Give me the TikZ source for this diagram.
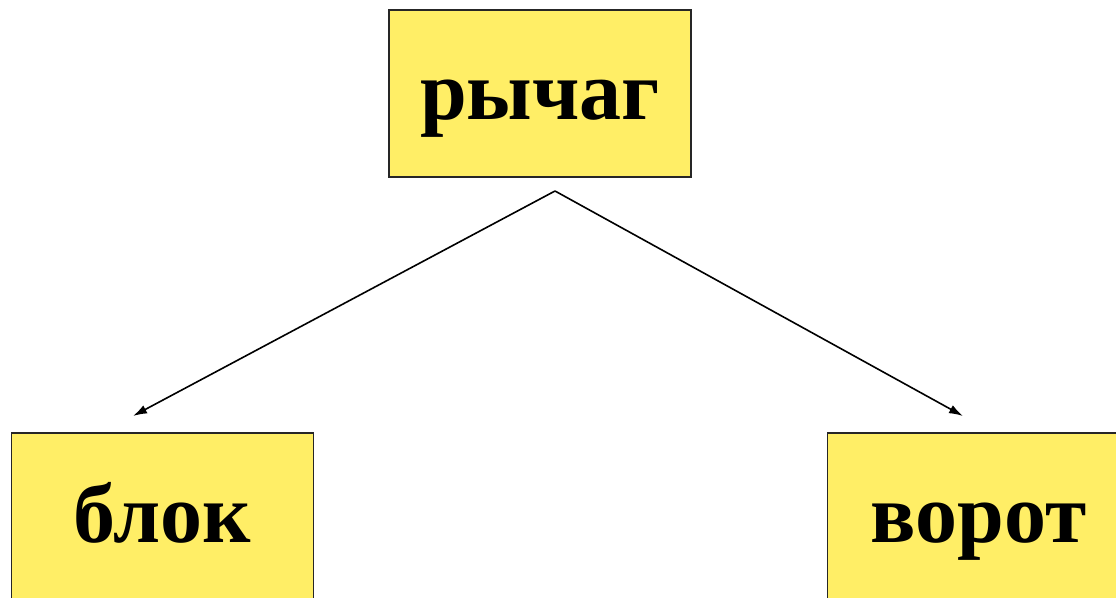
\documentclass[tikz,border=0pt]{standalone}
\usepackage{fontspec}
\setmainfont{Liberation Serif}
\usetikzlibrary{arrows.meta}
\definecolor{boxyellow}{RGB}{255,238,102}
\tikzset{
  wordbox/.style={draw=black!85, line width=1.5pt, fill=boxyellow,
    minimum width=302pt, minimum height=167pt, inner sep=0pt,
    text height=55pt, text depth=3pt,
    font=\fontsize{84}{100}\selectfont\bfseries},
  link/.style={line width=1.6pt, -{Latex[length=14pt,width=9pt]}}
}
\begin{document}
\begin{tikzpicture}[x=1pt,y=1pt]
  \useasboundingbox (0,0) rectangle (1116,597);
  \clip (0,0) rectangle (1116,597);
  \node[wordbox] (lever) at (540,503.5) {рычаг};
  \node[wordbox] (block) at (162.5,80.5) {блок};
  \node[wordbox] (winch) at (978.5,80.5) {ворот};
  \coordinate (apex) at (555,406);
  \coordinate (blocktip) at (133,181);
  \coordinate (winchtip) at (963,181);
  \draw[link] (apex) -- (blocktip);
  \draw[link] (apex) -- (winchtip);
\end{tikzpicture}
\end{document}
